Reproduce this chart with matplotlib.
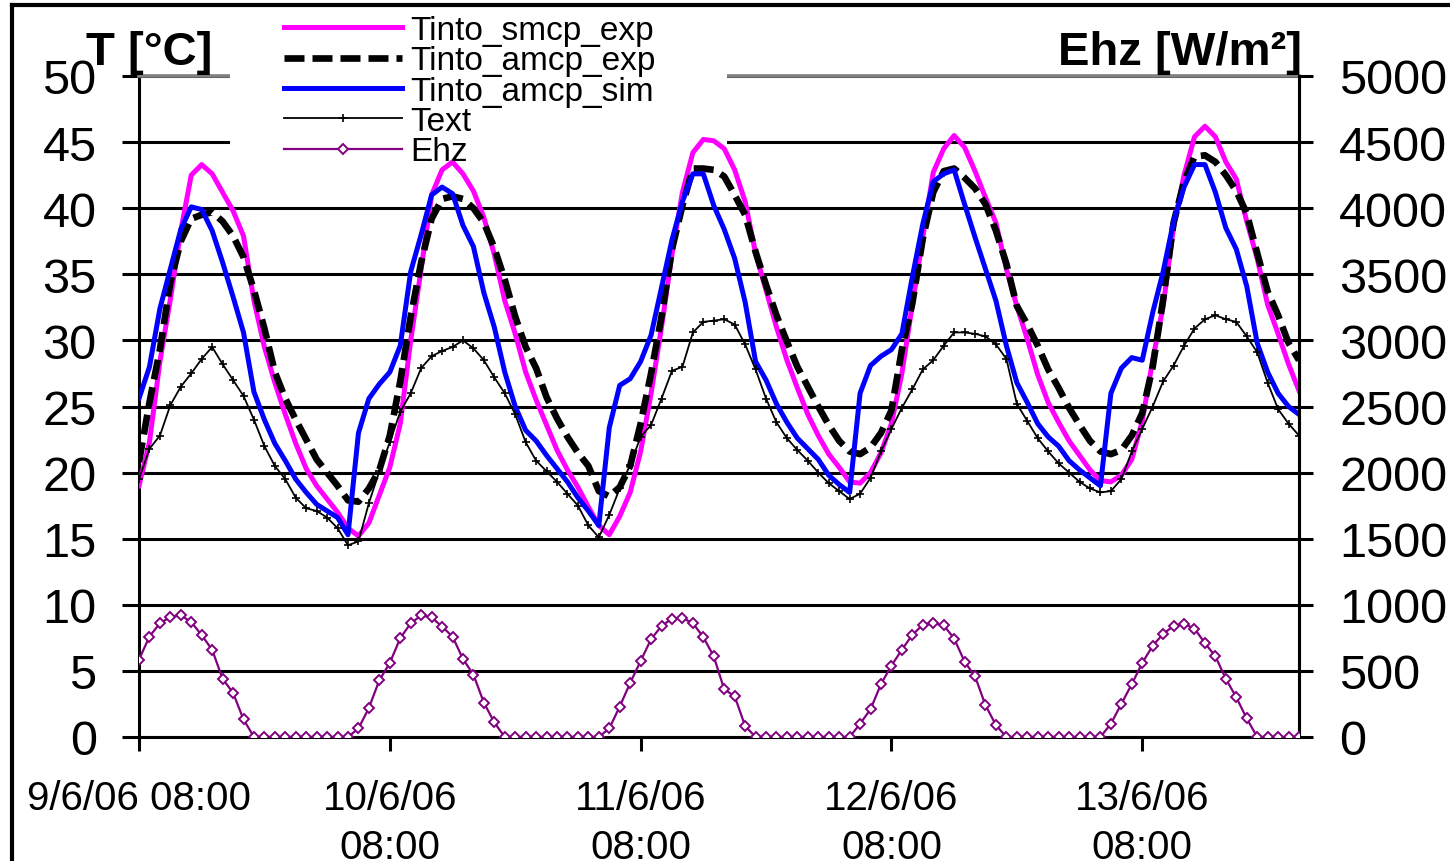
import numpy as np
import matplotlib
matplotlib.use("Agg")
import matplotlib.pyplot as plt
from matplotlib.lines import Line2D
from matplotlib.patches import Rectangle

plt.rcParams['font.family'] = ['Liberation Sans', 'DejaVu Sans']

# ---------------- data (hourly samples starting 9/6/06 08:00) ----------------
hours = np.arange(112)
tick_hours = [0, 24, 48, 72, 96]
tick_labels = ["9/6/06 08:00", "10/6/06\n08:00", "11/6/06\n08:00",
               "12/6/06\n08:00", "13/6/06\n08:00"]
t_ticks = [0, 5, 10, 15, 20, 25, 30, 35, 40, 45, 50]
e_ticks = [0, 500, 1000, 1500, 2000, 2500, 3000, 3500, 4000, 4500, 5000]

tinto_smcp_exp = [
    19.0, 22.3, 28.4, 33.1, 38.3, 42.5, 43.3, 42.6, 41.2, 39.8,
    37.9, 33.0, 29.5, 26.8, 24.4, 22.2, 20.3, 19.0, 18.0, 17.0,
    15.8, 15.2, 16.2, 18.3, 20.4, 23.7, 30.0, 35.4, 41.0, 42.9,
    43.5, 42.6, 41.3, 39.3, 36.5, 33.0, 30.5, 27.6, 25.5, 23.6,
    21.7, 20.2, 18.9, 17.4, 16.0, 15.3, 16.7, 18.5, 21.6, 26.0,
    31.0, 36.5, 41.2, 44.2, 45.2, 45.1, 44.5, 42.9, 40.5, 36.6,
    33.8, 31.0, 28.5, 26.4, 24.4, 22.8, 21.4, 20.4, 19.3, 19.2,
    20.0, 21.5, 23.7, 27.5, 32.7, 37.8, 42.7, 44.5, 45.5, 44.6,
    42.8, 40.8, 38.9, 35.4, 32.6, 30.1, 27.4, 25.3, 23.8, 22.4,
    21.3, 20.2, 19.4, 19.3, 19.8, 21.0, 23.9, 28.5, 32.6, 38.6,
    42.5, 45.4, 46.2, 45.4, 43.5, 42.2, 39.0, 36.2, 32.7, 30.5,
    28.2, 26.2]

tinto_amcp_exp = [
    20.8, 25.3, 29.3, 34.4, 37.5, 39.2, 39.5, 39.7, 39.0, 37.9,
    36.3, 33.8, 30.9, 27.6, 25.6, 24.0, 22.5, 21.0, 20.0, 19.0,
    17.9, 17.8, 18.8, 20.2, 22.8, 26.9, 31.8, 35.9, 39.2, 40.7,
    40.9, 40.7, 40.0, 38.9, 37.0, 34.6, 31.8, 29.5, 27.9, 25.7,
    24.1, 22.7, 21.5, 20.5, 18.6, 18.2, 18.9, 20.5, 23.7, 27.5,
    31.8, 36.9, 40.2, 43.0, 43.0, 42.9, 42.4, 41.0, 39.5, 36.7,
    34.2, 31.9, 29.9, 28.0, 26.5, 25.0, 23.6, 22.4, 21.6, 21.4,
    21.9, 23.0, 24.7, 29.3, 32.8, 37.7, 41.2, 42.8, 43.0, 42.3,
    41.5, 40.3, 38.3, 35.8, 32.6, 31.2, 29.6, 27.8, 26.4, 24.9,
    23.6, 22.4, 21.6, 21.4, 21.7, 22.8, 24.5, 28.0, 33.1, 38.9,
    42.0, 43.9, 44.0, 43.5, 42.5, 41.3, 39.6, 36.6, 33.7, 31.9,
    29.8, 28.5]

tinto_amcp_sim = [
    25.6, 28.0, 32.4, 35.4, 38.4, 40.1, 39.9, 38.3, 35.9, 33.3,
    30.6, 26.1, 24.0, 22.2, 20.9, 19.5, 18.5, 17.6, 17.1, 16.6,
    15.3, 23.0, 25.6, 26.7, 27.6, 29.6, 35.2, 38.0, 41.0, 41.6,
    41.1, 38.7, 37.1, 33.6, 31.0, 27.6, 25.0, 23.2, 22.4, 21.3,
    20.3, 19.3, 18.1, 17.1, 16.0, 23.4, 26.6, 27.1, 28.4, 30.4,
    34.0, 37.6, 40.5, 42.6, 42.6, 40.2, 38.4, 36.2, 32.9, 28.4,
    27.0, 25.2, 23.8, 22.6, 21.8, 21.0, 19.8, 19.1, 18.5, 26.0,
    28.1, 28.8, 29.3, 30.5, 34.8, 38.8, 42.0, 42.6, 42.9, 40.3,
    37.8, 35.4, 33.0, 29.6, 26.8, 25.3, 23.7, 22.7, 22.0, 20.9,
    20.2, 19.6, 19.0, 26.0, 27.9, 28.7, 28.5, 32.1, 35.2, 39.0,
    41.6, 43.3, 43.3, 41.2, 38.5, 36.9, 34.1, 29.8, 27.6, 26.0,
    25.0, 24.4]

text_ext = [
    19.5, 21.8, 22.8, 25.1, 26.5, 27.5, 28.6, 29.5, 28.2, 27.0,
    25.8, 24.0, 22.0, 20.5, 19.5, 18.1, 17.3, 17.1, 16.6, 15.8,
    14.5, 14.8, 17.7, 20.1, 22.3, 24.6, 26.0, 27.9, 28.8, 29.2,
    29.5, 30.0, 29.4, 28.5, 27.2, 26.0, 24.4, 22.3, 20.9, 20.1,
    19.3, 18.4, 17.5, 16.0, 15.1, 16.8, 18.8, 20.6, 22.7, 23.6,
    25.6, 27.7, 28.0, 30.6, 31.4, 31.5, 31.6, 31.2, 29.7, 27.8,
    25.6, 23.8, 22.6, 21.7, 20.9, 20.0, 19.2, 18.6, 18.0, 18.4,
    19.6, 21.6, 23.3, 24.9, 26.3, 27.8, 28.5, 29.6, 30.6, 30.6,
    30.5, 30.3, 29.7, 28.6, 25.2, 23.9, 22.6, 21.6, 20.7, 20.0,
    19.3, 18.8, 18.5, 18.6, 19.5, 21.6, 23.3, 25.0, 26.9, 28.1,
    29.6, 30.9, 31.6, 31.9, 31.6, 31.4, 30.3, 29.1, 26.8, 24.8,
    23.7, 22.8]

ehz = [
    585, 760, 860, 908, 920, 870, 770, 660, 440, 334,
    133, 0, 0, 0, 0, 0, 0, 0, 0, 0,
    0, 65, 220, 430, 560, 748, 860, 920, 905, 835,
    760, 590, 472, 260, 110, 0, 0, 0, 0, 0,
    0, 0, 0, 0, 0, 65, 230, 409, 575, 740,
    840, 895, 900, 861, 755, 610, 360, 309, 83, 0,
    0, 0, 0, 0, 0, 0, 0, 0, 0, 100,
    210, 400, 540, 660, 773, 848, 861, 845, 745, 570,
    459, 240, 90, 0, 0, 0, 0, 0, 0, 0,
    0, 0, 0, 100, 250, 400, 560, 690, 780, 840,
    855, 820, 710, 610, 440, 300, 140, 0, 0, 0,
    0, 0]

# ---------------- figure ----------------
W, H = 1450, 862
fig = plt.figure(figsize=(W / 100, H / 100), dpi=100)
fig.patch.set_facecolor('white')

L, R, T, B = 139, 1299, 77, 738
ax = fig.add_axes([L / W, 1 - B / H, (R - L) / W, (B - T) / H])
ax2 = ax.twinx()

ax.set_xlim(0, 111)
ax.set_ylim(0, 50)
ax2.set_ylim(0, 5000)

ax.set_axisbelow(True)
ax.set_yticks(t_ticks)
ax.yaxis.grid(True, color='black', lw=2.2)
ax2.set_yticks(e_ticks)

ax.set_xticks(tick_hours)
ax.set_xticklabels(tick_labels, fontsize=29, linespacing=1.38)

ax.tick_params(axis='y', which='major', length=12, width=2.2, pad=18.5,
               labelsize=35, direction='out')
ax.tick_params(axis='x', which='major', length=10, width=2.2, pad=20,
               direction='out')
ax2.tick_params(axis='y', which='major', length=10, width=2.2, pad=19,
                labelsize=35, direction='out')

for a in (ax, ax2):
    for s in ('left', 'right', 'bottom'):
        a.spines[s].set_color('black')
        a.spines[s].set_linewidth(2.2)
ax.spines['top'].set_color('#808080')
ax.spines['top'].set_linewidth(2.6)
ax2.spines['top'].set_visible(False)
ax2.spines['left'].set_visible(False)
ax2.spines['bottom'].set_visible(False)

# white area behind the legend (hides gridlines but not the series)
ax.add_patch(Rectangle((230 / W, 1 - 170 / H), (727 - 230) / W, 160 / H,
                       transform=fig.transFigure, facecolor='white',
                       edgecolor='none', zorder=2.7, clip_on=False))

# ---------------- series ----------------
l1, = ax.plot(hours, tinto_smcp_exp, color='#FF00FF', lw=3.6,
              zorder=3, label='Tinto_smcp_exp')
l2, = ax.plot(hours, tinto_amcp_exp, color='black', lw=4.8,
              dashes=(3, 1.2), zorder=3.1, label='Tinto_amcp_exp')
l3, = ax.plot(hours, tinto_amcp_sim, color='#0000FF', lw=3.6,
              zorder=3.2, label='Tinto_amcp_sim')
l4, = ax.plot(hours, text_ext, color='black', lw=1.3, marker='+',
              ms=6, mew=1.2, zorder=3.3, label='Text')
l5, = ax2.plot(hours, ehz, color='#800080', lw=1.6, marker='D', ms=5,
               mfc='white', mec='#800080', mew=1.4, zorder=3, label='Ehz')

fig.legend(handles=[l1, l2, l3, l4, l5],
           labels=['Tinto_smcp_exp', 'Tinto_amcp_exp', 'Tinto_amcp_sim',
                   'Text', 'Ehz'],
           loc='upper left', bbox_to_anchor=(284 / W, 1 - 16 / H),
           frameon=False, fontsize=24, borderpad=0, borderaxespad=0,
           handlelength=3.54, handletextpad=0.24, labelspacing=-0.02)

# ---------------- axis titles ----------------
fig.text(212 / W, 1 - 65 / H, 'T [°C]', ha='right', va='baseline',
         fontsize=34, fontweight='bold')
fig.text(1302 / W, 1 - 65 / H, 'Ehz [W/m²]', ha='right', va='baseline',
         fontsize=34, fontweight='bold')

# ---------------- outer chart border ----------------
fig.add_artist(Line2D([12 / W, 1.0], [1 - 6 / H, 1 - 6 / H],
                      transform=fig.transFigure, color='black', lw=3))
fig.add_artist(Line2D([12 / W, 12 / W], [0.0, 1 - 6 / H],
                      transform=fig.transFigure, color='black', lw=3))

fig.savefig('out.png', dpi=100, facecolor='white')
